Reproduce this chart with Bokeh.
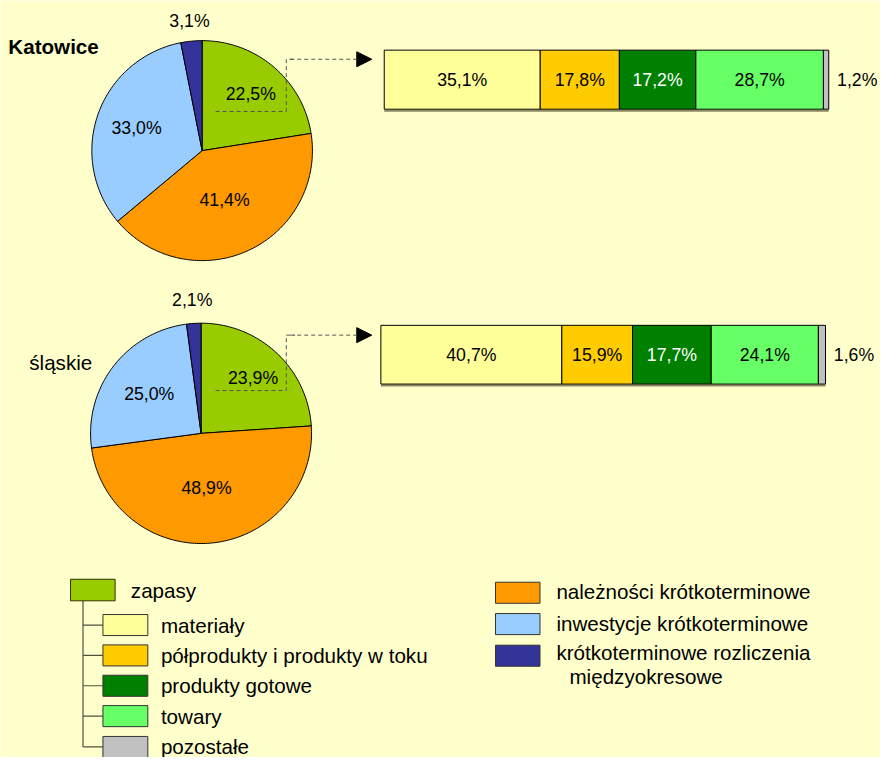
import numpy as np
from bokeh.plotting import figure
from bokeh.models import Range1d, Arrow, NormalHead
from bokeh.core.properties import value
from bokeh.embed import file_html
from bokeh.resources import INLINE

# ---------------- data ----------------
regions = ["Katowice", "śląskie"]
pie_categories = ["zapasy", "należności krótkoterminowe", "inwestycje krótkoterminowe",
                  "krótkoterminowe rozliczenia międzyokresowe"]
pie_katowice = [22.5, 41.4, 33.0, 3.1]
pie_slaskie = [23.9, 48.9, 25.0, 2.1]

bar_categories = ["materiały", "półprodukty i produkty w toku", "produkty gotowe", "towary", "pozostałe"]
bar_katowice = [35.1, 17.8, 17.2, 28.7, 1.2]
bar_slaskie = [40.7, 15.9, 17.7, 24.1, 1.6]

# ---------------- styles ----------------
BG = "#FFFFCC"
FONT = value("Liberation Sans")
LBL = value("17.7px")
BIG = value("20.6px")
pie_colors = ["#99CC00", "#FF9900", "#99CCFF", "#333399"]
bar_colors = ["#FFFF99", "#FFCC00", "#008000", "#66FF66", "#C0C0C0"]
bar_text_colors = ["black", "black", "white", "black", "black"]


def fmt(v):
    return f"{v:.1f}".replace(".", ",") + "%"


p = figure(width=880, height=757, x_range=Range1d(0, 896), y_range=Range1d(773, 0),
           output_backend="svg", toolbar_location=None, min_border=0,
           x_axis_location=None, y_axis_location=None)
p.grid.visible = False
p.outline_line_color = None
p.background_fill_color = BG
p.border_fill_color = BG


def draw_pie(vals, cx, cy, r, fracs):
    total = float(sum(vals))
    cum = np.concatenate([[0.0], np.cumsum(vals)]) / total * 2 * np.pi
    xs, ys = [], []
    lx, ly, lt = [], [], []
    for i in range(len(vals)):
        a0, a1 = cum[i], cum[i + 1]
        t = np.linspace(a0, a1, max(3, int((a1 - a0) * 60)))
        xs.append([cx] + list(cx + r * np.sin(t)))
        ys.append([cy] + list(cy - r * np.cos(t)))
        mid = (a0 + a1) / 2
        lx.append(cx + fracs[i] * r * np.sin(mid))
        ly.append(cy - fracs[i] * r * np.cos(mid))
        lt.append(fmt(vals[i]))
    p.patches(xs, ys, fill_color=pie_colors, line_color="black", line_width=1)
    p.text(lx, ly, text=lt, text_font=FONT, text_font_size=LBL,
           text_align="center", text_baseline="middle", text_color="black")


def draw_bar(vals, x0, width, top, bottom):
    total = float(sum(vals))
    cum = x0 + np.concatenate([[0.0], np.cumsum(vals)]) / total * width
    p.line([cum[0], cum[-1]], [bottom + 1.5, bottom + 1.5], line_color="#8a8a60", line_width=2)
    p.quad(left=cum[:-1], right=cum[1:], top=top, bottom=bottom,
           fill_color=bar_colors, line_color="black", line_width=1)
    cx = list((cum[:-1] + cum[1:]) / 2)
    cx[-1] = cum[-1] + 29
    p.text(cx, [(top + bottom) / 2] * len(vals), text=[fmt(v) for v in vals],
           text_color=bar_text_colors, text_font=FONT, text_font_size=LBL,
           text_align="center", text_baseline="middle")


def connector(y_pie, y_bar):
    p.line([219, 291, 291, 300], [y_pie, y_pie, y_bar, y_bar],
           line_color="#555555", line_width=1, line_dash="4 3")
    p.add_layout(Arrow(x_start=295, y_start=y_bar, x_end=378, y_end=y_bar,
                       line_color="#555555", line_width=1, line_dash="4 3",
                       end=NormalHead(size=15, fill_color="black", line_color="black")))


# Katowice
draw_pie(pie_katowice, 205.3, 153.3, 112.3, [0.68, 0.49, 0.63, 1.18])
draw_bar(bar_katowice, 390.7, 452.6, 50.7, 111.0)
connector(113.3, 60)
p.text([8], [46.7], text=[regions[0]], text_font=FONT, text_font_size=BIG,
       text_font_style="bold", text_align="left", text_baseline="middle", text_color="black")

# śląskie
draw_pie(pie_slaskie, 204.2, 442.0, 112.5, [0.69, 0.5, 0.59, 1.21])
draw_bar(bar_slaskie, 387.3, 452.7, 331.7, 391.7)
connector(398.3, 341.7)
p.text([29.3], [370], text=[regions[1]], text_font=FONT, text_font_size=BIG,
       text_align="left", text_baseline="middle", text_color="black")

# ---------------- legend ----------------
sub_tops = [627, 658, 689, 720, 751.5]
sub_h = 21.5
tree_col = "#505040"
p.line([84, 84], [613, sub_tops[-1] + sub_h / 2], line_color=tree_col, line_width=1.2)
for t in sub_tops:
    p.line([84, 104.3], [t + sub_h / 2, t + sub_h / 2], line_color=tree_col, line_width=1.2)

p.quad(left=[71.3], right=[116.7], top=[591], bottom=[613], fill_color=pie_colors[0],
       line_color="#333300", line_width=1)
p.text([132.7], [602], text=[pie_categories[0]], text_font=FONT, text_font_size=BIG,
       text_align="left", text_baseline="middle", text_color="black")

p.quad(left=[104.3] * 5, right=[150] * 5, top=sub_tops, bottom=[t + sub_h for t in sub_tops],
       fill_color=bar_colors, line_color="#333333", line_width=1)
p.text([163.3] * 5, [t + sub_h / 2 for t in sub_tops], text=bar_categories, text_font=FONT,
       text_font_size=BIG, text_align="left", text_baseline="middle", text_color="black")

r_tops = [594, 626, 658.3]
r_h = 21.5
p.quad(left=[504] * 3, right=[549.3] * 3, top=r_tops, bottom=[t + r_h for t in r_tops],
       fill_color=pie_colors[1:], line_color="#333333", line_width=1)
last_words = pie_categories[3].split(" ")
p.text([566, 566, 566, 579.3], [603.5, 636, 666, 690],
       text=[pie_categories[1], pie_categories[2], " ".join(last_words[:2]), last_words[2]],
       text_font=FONT, text_font_size=BIG, text_align="left", text_baseline="middle",
       text_color="black")

html = file_html(p, INLINE)
html = html.replace("<body>", '<body style="background:%s">' % BG, 1)
open("out.html", "w").write(html)
